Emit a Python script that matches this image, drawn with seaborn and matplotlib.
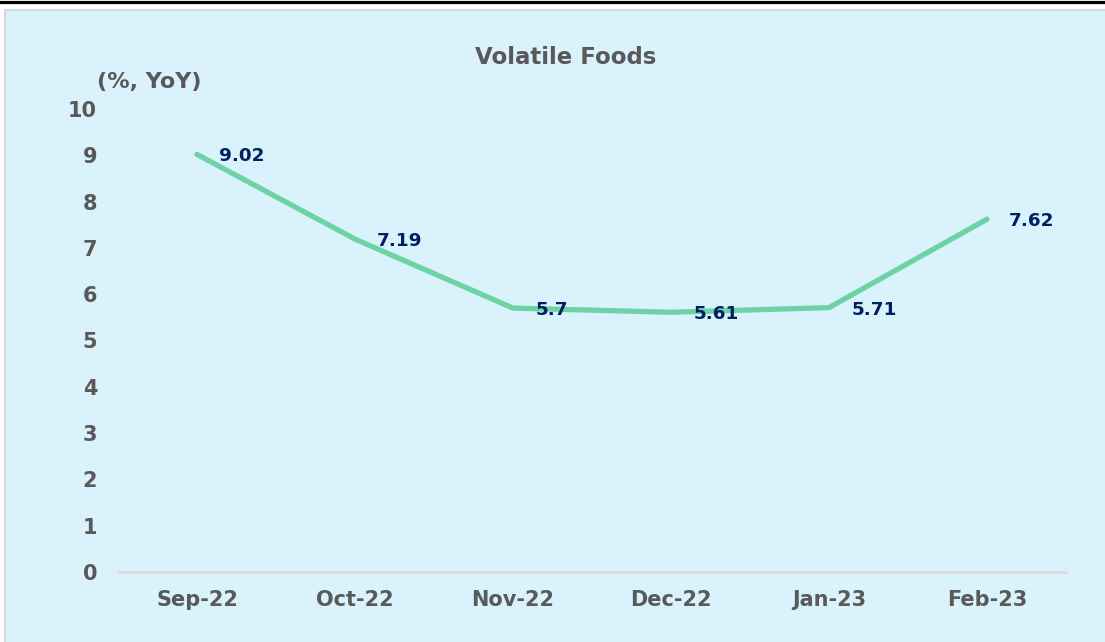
import matplotlib
matplotlib.use("Agg")
import matplotlib.pyplot as plt
import seaborn as sns
import pandas as pd
from matplotlib.patches import Rectangle
from matplotlib.lines import Line2D

# ---- data ----
months = ["Sep-22", "Oct-22", "Nov-22", "Dec-22", "Jan-23", "Feb-23"]
values = [9.02, 7.19, 5.7, 5.61, 5.71, 7.62]
label_texts = ["9.02", "7.19", "5.7", "5.61", "5.71", "7.62"]
y_ticks = [0, 1, 2, 3, 4, 5, 6, 7, 8, 9, 10]
title_text = "Volatile Foods"
unit_text = "(%, YoY)"

sns.set_theme(style="white")
plt.rcParams["font.family"] = ["DejaVu Sans"]

W, H = 1105, 642
fig = plt.figure(figsize=(W / 100, H / 100), dpi=100)
fig.patch.set_facecolor("white")

BG = "#DAF2FC"
GREY = "#595959"
NAVY = "#002060"
LINE = "#6DD3A5"

# panel background with light border
fig.patches.append(Rectangle((5 / W, -0.01), 1.02, (H - 10) / H + 0.01,
                             transform=fig.transFigure, facecolor=BG,
                             edgecolor="#D9D9D9", linewidth=1.5, zorder=-5))
# black top rule
fig.lines.append(Line2D([0, 1], [1 - 1.5 / H, 1 - 1.5 / H], transform=fig.transFigure,
                        color="black", linewidth=2.3, zorder=-4))

ax = fig.add_axes([118 / W, 1 - 572 / H, (1066 - 118) / W, (572 - 109) / H])
ax.set_facecolor("none")
ax.set_zorder(2)

df = pd.DataFrame({"month": months, "value": values})
sns.lineplot(data=df, x="month", y="value", sort=False, ax=ax,
             color=LINE, linewidth=3.8, solid_capstyle="round", solid_joinstyle="round")

ax.set_xlim(-0.5, len(months) - 0.5)
ax.set_ylim(0, 10)
ax.set_yticks(y_ticks)
ax.set_yticklabels([str(t) for t in y_ticks])
ax.set_xlabel("")
ax.set_ylabel("")

for s in ["top", "right", "left"]:
    ax.spines[s].set_visible(False)
ax.spines["bottom"].set_color("#D9D9D9")
ax.spines["bottom"].set_linewidth(1.8)

ax.tick_params(axis="both", length=0, colors=GREY, labelsize=15)
ax.tick_params(axis="y", pad=15)
ax.tick_params(axis="x", pad=13)
for lab in ax.get_xticklabels() + ax.get_yticklabels():
    lab.set_fontweight("bold")
    lab.set_color(GREY)

for i, (v, t) in enumerate(zip(values, label_texts)):
    ax.annotate(t, xy=(i, v), xytext=(16, -1.5), textcoords="offset points",
                ha="left", va="center", fontsize=13.2, fontweight="bold", color=NAVY)

fig.text(566 / W, 1 - 58 / H, title_text, ha="center", va="center",
         fontsize=16.5, fontweight="bold", color=GREY)
fig.text(97 / W, 1 - 82 / H, unit_text, ha="left", va="center",
         fontsize=16, fontweight="bold", color=GREY)

fig.savefig("out.png", dpi=100, facecolor=fig.get_facecolor())
